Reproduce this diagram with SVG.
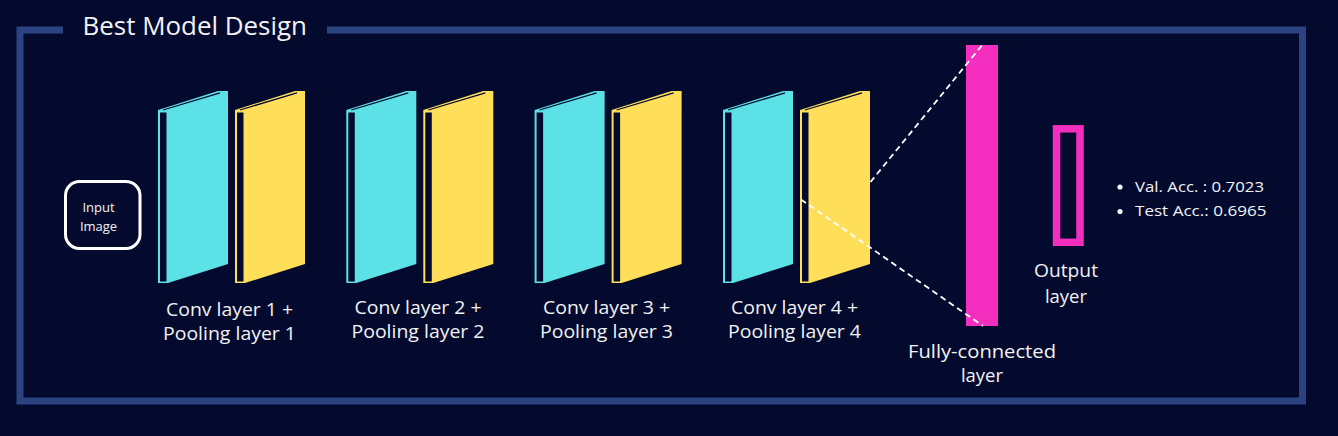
<svg xmlns="http://www.w3.org/2000/svg" width="1338" height="436" viewBox="0 0 1338 436">
<style>
  .t { font-family: "Open Sans", "Noto Sans", "Liberation Sans", sans-serif; fill: #f2f2f2; }
  .lbl { font-size: 18.5px; text-anchor: middle; }
  .frame { fill: none; stroke: #2b4381; stroke-width: 7; }
  .cyan { fill: #5ce1e6; }
  .yellow { fill: #ffde59; }
  .hole { fill: #040a2e; }
  .topline { stroke: #040a2e; stroke-width: 1.3; fill: none; }
  .dash { stroke: #ffffff; stroke-width: 1.8; stroke-dasharray: 6 4; fill: none; }
</style>
<defs>
  <g id="box">
    <polygon points="0,110 60,91 70,91 70,264 10,283 0,283"/>
    <rect class="hole" x="2" y="112.5" width="6.5" height="169"/>
    <line class="topline" x1="5" y1="110" x2="62" y2="92.8"/>
  </g>
</defs>
<rect width="1338" height="436" fill="#040a2e"/>

<g id="frame">
  <path class="frame" d="M63,30 H20 V401 H1302.5 V30 H327"/>
  <text class="t" x="82.5" y="35" font-size="25" textLength="224.5" lengthAdjust="spacingAndGlyphs">Best Model Design</text>
</g>

<g id="input">
  <rect x="65.5" y="181.5" width="74.5" height="67" rx="14" fill="none" stroke="#ffffff" stroke-width="3"/>
  <text class="t" x="98.5" y="212" font-size="13" text-anchor="middle">Input</text>
  <text class="t" x="98.5" y="231" font-size="13" text-anchor="middle">Image</text>
</g>

<g id="block1">
  <use href="#box" class="cyan" x="158"/>
  <use href="#box" class="yellow" x="235"/>
  <text class="t lbl" x="229.5" y="316" textLength="127" lengthAdjust="spacingAndGlyphs">Conv layer 1 +</text>
  <text class="t lbl" x="229.5" y="340" textLength="133" lengthAdjust="spacingAndGlyphs">Pooling layer 1</text>
</g>
<g id="block2">
  <use href="#box" class="cyan" x="346.3"/>
  <use href="#box" class="yellow" x="423.3"/>
  <text class="t lbl" x="418" y="314" textLength="127" lengthAdjust="spacingAndGlyphs">Conv layer 2 +</text>
  <text class="t lbl" x="418" y="338" textLength="133" lengthAdjust="spacingAndGlyphs">Pooling layer 2</text>
</g>
<g id="block3">
  <use href="#box" class="cyan" x="534.6"/>
  <use href="#box" class="yellow" x="611.6"/>
  <text class="t lbl" x="606.5" y="314" textLength="127" lengthAdjust="spacingAndGlyphs">Conv layer 3 +</text>
  <text class="t lbl" x="606.5" y="338" textLength="133" lengthAdjust="spacingAndGlyphs">Pooling layer 3</text>
</g>
<g id="block4">
  <use href="#box" class="cyan" x="723"/>
  <use href="#box" class="yellow" x="800"/>
  <text class="t lbl" x="794.5" y="314" textLength="127" lengthAdjust="spacingAndGlyphs">Conv layer 4 +</text>
  <text class="t lbl" x="794.5" y="338" textLength="133" lengthAdjust="spacingAndGlyphs">Pooling layer 4</text>
</g>

<g id="fc">
  <rect x="966" y="45" width="32" height="281" fill="#f42fbf"/>
  <text class="t lbl" x="982" y="358" textLength="148" lengthAdjust="spacingAndGlyphs">Fully-connected</text>
  <text class="t lbl" x="982" y="382">layer</text>
</g>

<g id="connectors">
  <line class="dash" x1="870.5" y1="182" x2="983" y2="44"/>
  <line class="dash" x1="801" y1="199.5" x2="983" y2="326"/>
</g>

<g id="output">
  <rect x="1056.5" y="128.8" width="23.5" height="113.5" fill="none" stroke="#f42fbf" stroke-width="7.5"/>
  <text class="t lbl" x="1066" y="277" textLength="64" lengthAdjust="spacingAndGlyphs">Output</text>
  <text class="t lbl" x="1066" y="303">layer</text>
</g>

<g id="metrics">
  <circle cx="1120" cy="187" r="2.6" fill="#f2f2f2"/>
  <circle cx="1120" cy="211.5" r="2.6" fill="#f2f2f2"/>
  <text class="t" x="1135" y="191.5" font-size="14" textLength="129" lengthAdjust="spacingAndGlyphs">Val. Acc. : 0.7023</text>
  <text class="t" x="1135" y="216" font-size="14" textLength="131.5" lengthAdjust="spacingAndGlyphs">Test Acc.: 0.6965</text>
</g>
</svg>
